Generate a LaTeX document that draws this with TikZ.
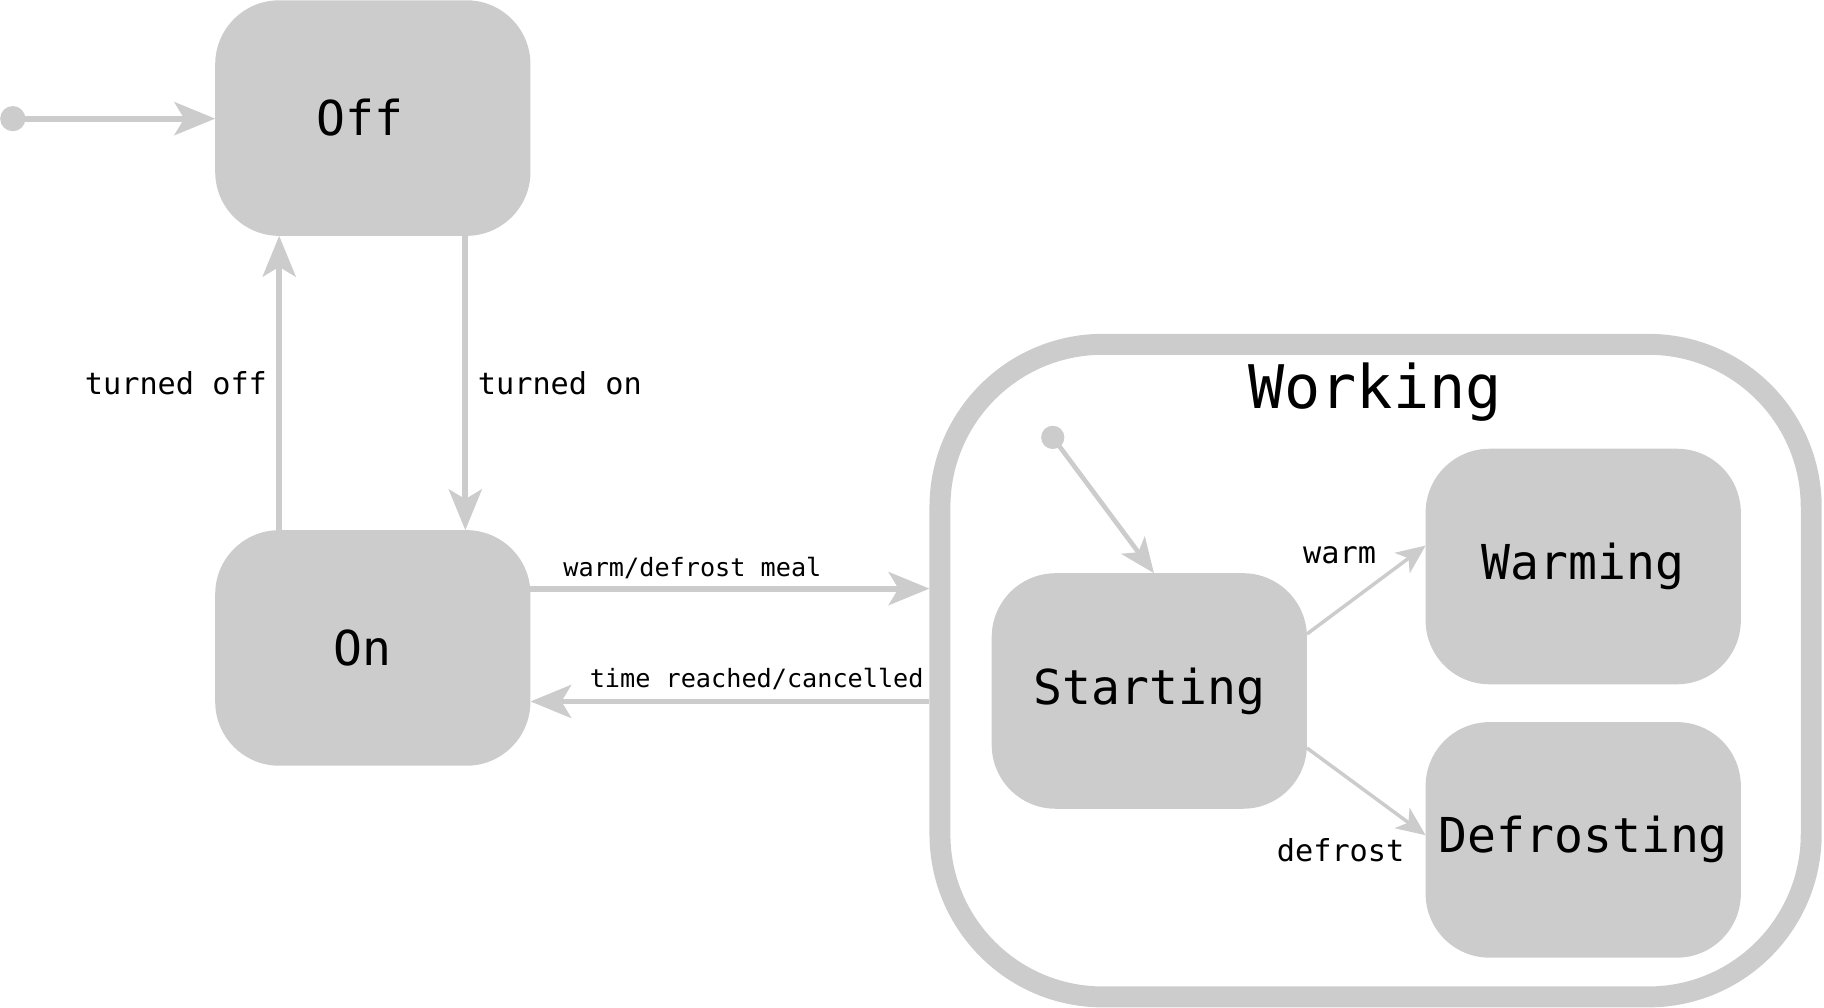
\documentclass[tikz,border=0pt]{standalone}
\usepackage{fontspec}
\setmonofont{DejaVu Sans Mono}
\usetikzlibrary{arrows.meta,calc}
\definecolor{sgray}{HTML}{CCCCCC}
\newcommand\fbig{\ttfamily\fontsize{24.8}{30}\selectfont}
\newcommand\fhuge{\ttfamily\fontsize{31}{36}\selectfont}
\newcommand\fsmall{\ttfamily\fontsize{15.6}{18}\selectfont}
\newcommand\ftiny{\ttfamily\fontsize{13}{15}\selectfont}
\begin{document}
\begin{tikzpicture}[x=0.6pt,y=-0.6pt,
  state/.style={fill=sgray, rounded corners=33pt, minimum width=162.6pt, minimum height=121.5pt, inner sep=0pt, outer sep=0pt, font=\fbig},
  conn/.style={draw=sgray, line width=3pt, -{Stealth[length=21pt,width=17pt,inset=5pt]}},
  midconn/.style={draw=sgray, line width=2.4pt, -{Stealth[length=18pt,width=15pt,inset=4.5pt]}},
  thinconn/.style={draw=sgray, line width=1.8pt, -{Stealth[length=15pt,width=13pt,inset=4pt]}},
  lbl/.style={font=\fsmall, inner sep=0pt},
  tlbl/.style={font=\ftiny, inner sep=0pt},
  initdot/.style={circle, fill=sgray, minimum size=13pt, inner sep=0pt, outer sep=0pt}]
\useasboundingbox (0,0) rectangle (1568,866);

\node[draw=sgray, line width=10.8pt, rounded corners=84pt, minimum width=449.4pt, minimum height=336.6pt, inner sep=0pt, outer sep=5.4pt] (working) at (1182.5,576.5) {};
\node[font=\fhuge, inner sep=0pt] (worktitle) at (1182,337) {Working};

\node[state] (off) at (320.5,101.5) {\kern-13pt Off};
\node[state] (on) at (320.5,557) {\kern-11pt On};
\node[state] (starting) at (988,594) {Starting};
\node[state] (warming) at (1361,487) {Warming};
\node[state] (defrosting) at (1361,722) {Defrosting};

\node[initdot] (init1) at (11,102) {};
\node[initdot, minimum size=12pt] (init2) at (905,376) {};

\draw[conn] (init1.center) -- (init1 -| off.west);
\draw[conn] ($(on.north)+(-80.5,0)$) -- ($(off.south)+(-80.5,0)$)
  node[lbl, midway, left=4.8pt] {turned off};
\draw[conn] ($(off.south)+(79.5,0)$) -- ($(on.north)+(79.5,0)$)
  node[lbl, midway, right=5pt] {turned on};

\coordinate (m1) at ($(on.east)+(0,-51)$);
\coordinate (m2) at ($(on.east)+(0,46)$);
\draw[conn] (m1) -- (m1 -| working.west)
  node[tlbl, pos=0.406, yshift=10.8pt] {warm/defrost meal};
\draw[conn] (m2 -| working.west) -- (m2)
  node[tlbl, pos=0.433, yshift=11.4pt] {time reached/cancelled};

\draw[midconn] (init2.center) -- ($(starting.north)+(4,0)$);
\draw[thinconn] ($(starting.east)+(0,-49)$) -- ($(warming.west)+(0,-18)$)
  node[lbl, pos=0.275, yshift=28pt] {warm};
\draw[thinconn] ($(starting.east)+(0,49)$) -- ($(defrosting.west)+(0,-4)$)
  node[lbl, pos=0.284, yshift=-40pt] {defrost};
\end{tikzpicture}
\end{document}
